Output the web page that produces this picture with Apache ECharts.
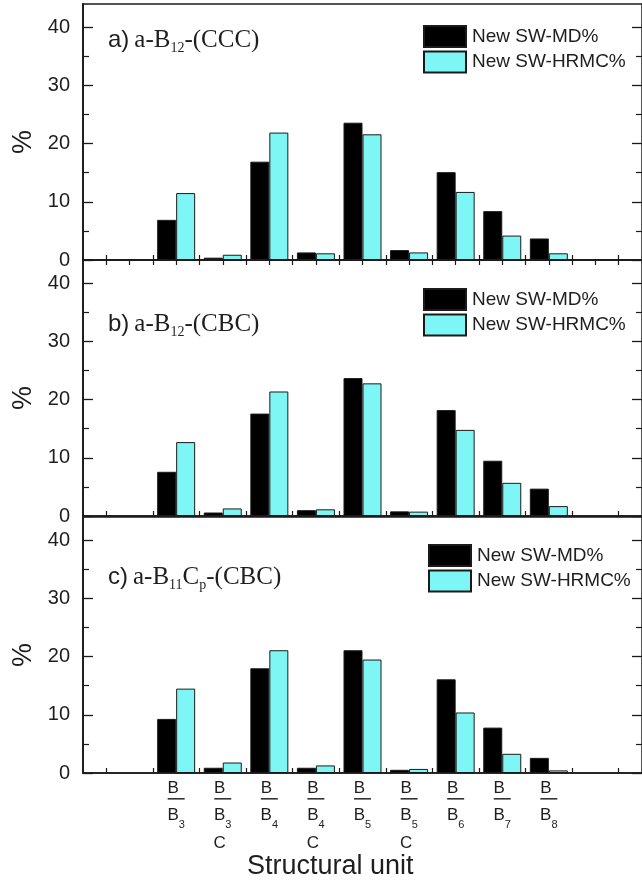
<!DOCTYPE html>
<html>
<head>
<meta charset="utf-8">
<script src="https://cdn.jsdelivr.net/npm/echarts@6/dist/echarts.min.js"></script>
<style>
html, body { margin: 0; padding: 0; background: #ffffff; }
#chart { width: 642px; height: 884px; }
</style>
</head>
<body>
<div id="chart"></div>
<script>
// Structural units (B over B_n, optionally with a C below)
const units = ['B3', 'B3C', 'B4', 'B4C', 'B5', 'B5C', 'B6', 'B7', 'B8'];
const unitSub = ['3', '3', '4', '4', '5', '5', '6', '7', '8'];
const unitHasC = [false, true, false, true, false, true, false, false, false];

const seriesNames = ['New SW-MD%', 'New SW-HRMC%'];

// Panel a) a-B12-(CCC)
const mdA   = [6.9, 0.4, 16.9, 1.3, 23.6, 1.7, 15.1, 8.4, 3.7];
const hrmcA = [11.5, 0.9, 21.9, 1.15, 21.6, 1.3, 11.7, 4.2, 1.15];
// Panel b) a-B12-(CBC)
const mdB   = [7.6, 0.6, 17.6, 1.0, 23.7, 0.8, 18.2, 9.5, 4.7];
const hrmcB = [12.7, 1.3, 21.4, 1.15, 22.8, 0.75, 14.8, 5.7, 1.7];
// Panel c) a-B11Cp-(CBC)
const mdC   = [9.3, 0.9, 18.0, 0.9, 21.1, 0.55, 16.1, 7.8, 2.6];
const hrmcC = [14.5, 1.8, 21.1, 1.3, 19.5, 0.7, 10.4, 3.3, 0.45];

const yMajorTicks = [0, 10, 20, 30, 40];
const yMinorTicks = [5, 15, 25, 35];
const yMax = 44;

// ---- layout ----
const FIRST = 2;                  // axis position of the first unit
const X_MAX = units.length + 3;   // empty slot on both sides
const SANS = 'Liberation Sans, Arial, sans-serif';
const SERIF = 'Liberation Serif, Times New Roman, serif';
const INK = '#1a1a1a';
const TXT = '#1e1e1e';

const panels = [
  { md: mdA, hrmc: hrmcA, top: 4,   title: '{p|a)} {f|a-B}{s|12}{f|-(CCC)}', titleTop: 25,  legendLeft: 423, legendTop: 25 },
  { md: mdB, hrmc: hrmcB, top: 260, title: '{p|b)} {f|a-B}{s|12}{f|-(CBC)}', titleTop: 309, legendLeft: 423, legendTop: 288 },
  { md: mdC, hrmc: hrmcC, top: 517, title: '{p|c)} {f|a-B}{s|11}{f|C}{s|p}{f|-(CBC)}', titleTop: 562, legendLeft: 428, legendTop: 544 }
];
const PANEL_H = 256;

const bandTicks = Array.from({ length: X_MAX }, (_, k) => k + 0.5);
const halfTicks = Array.from({ length: 2 * X_MAX - 1 }, (_, k) => (k + 1) * 0.5);
const unitPositions = units.map((_, i) => i + FIRST);

function unitLabel(val) {
  const i = Math.round(val) - FIRST;
  if (i < 0 || i >= units.length) return '';
  let s = '{b1|B}\n{u| }\n{b2|B}{s|' + unitSub[i] + '}';
  if (unitHasC[i]) s += '\n{c|C}';
  return s;
}

const grid = [], xAxis = [], yAxis = [], series = [], legend = [], title = [];

panels.forEach((p, k) => {
  const last = k === panels.length - 1;
  grid.push({
    left: 83, width: 564, top: p.top, height: PANEL_H,
    show: true, borderColor: INK, borderWidth: 1.5, backgroundColor: 'transparent'
  });

  // bottom axis
  xAxis.push({
    type: 'value', gridIndex: k, min: 0, max: X_MAX, position: 'bottom',
    splitLine: { show: false },
    axisLine: { show: true, onZero: false, lineStyle: { color: INK, width: 1.5 } },
    axisTick: { show: true, inside: true, length: 5, customValues: bandTicks, lineStyle: { color: INK, width: 1.2 } },
    axisLabel: last ? {
      show: true, customValues: unitPositions, formatter: unitLabel, margin: 6,
      color: TXT, fontFamily: SANS, verticalAlign: 'top',
      rich: {
        b1: { fontSize: 17, lineHeight: 19, fontFamily: SANS, color: TXT, padding: [0, 6, 0, 0] },
        u:  { width: 11, height: 1.6, lineHeight: 1.6, fontSize: 1, backgroundColor: '#333', padding: [0, 6, 0, 0] },
        b2: { fontSize: 17, lineHeight: 31, fontFamily: SANS, color: TXT },
        s:  { fontSize: 11, lineHeight: 13, fontFamily: SANS, color: TXT, verticalAlign: 'bottom' },
        c:  { fontSize: 17, lineHeight: 26, fontFamily: SANS, color: TXT, padding: [0, 6, 0, 0] }
      }
    } : { show: false }
  });

  // left axis: major ticks with labels
  yAxis.push({
    type: 'value', gridIndex: k, min: 0, max: yMax, position: 'left',
    name: '%', nameLocation: 'middle', nameGap: 46, nameRotate: 90,
    nameTextStyle: { fontSize: 27, fontFamily: SANS, color: TXT, padding: [0, 20, 0, 0] },
    splitLine: { show: false },
    axisLine: { show: true, lineStyle: { color: INK, width: 1.8 } },
    axisTick: { show: true, inside: true, length: 10, customValues: yMajorTicks, lineStyle: { color: INK, width: 1.3 } },
    axisLabel: { show: true, customValues: yMajorTicks, margin: 13, fontSize: 20, fontFamily: SANS, color: TXT }
  });
  // left axis: minor ticks
  yAxis.push({
    type: 'value', gridIndex: k, min: 0, max: yMax, position: 'left',
    splitLine: { show: false }, axisLine: { show: false }, axisLabel: { show: false },
    axisTick: { show: true, inside: true, length: 6, customValues: yMinorTicks, lineStyle: { color: INK, width: 1.2 } }
  });
  // right axis: mirrored ticks
  yAxis.push({
    type: 'value', gridIndex: k, min: 0, max: yMax, position: 'right',
    splitLine: { show: false }, axisLine: { show: false }, axisLabel: { show: false },
    axisTick: { show: true, inside: true, length: 10, customValues: yMajorTicks, lineStyle: { color: INK, width: 1.3 } }
  });
  yAxis.push({
    type: 'value', gridIndex: k, min: 0, max: yMax, position: 'right',
    splitLine: { show: false }, axisLine: { show: false }, axisLabel: { show: false },
    axisTick: { show: true, inside: true, length: 6, customValues: yMinorTicks, lineStyle: { color: INK, width: 1.2 } }
  });

  const yIdx = k * 4;
  series.push({
    name: seriesNames[0], type: 'bar', xAxisIndex: k, yAxisIndex: yIdx,
    barWidth: 19, barGap: '0%',
    itemStyle: { color: '#000000', borderColor: INK, borderWidth: 1 },
    data: p.md.map((v, i) => [i + FIRST, v])
  });
  series.push({
    name: seriesNames[1], type: 'bar', xAxisIndex: k, yAxisIndex: yIdx,
    barWidth: 19, barGap: '0%',
    itemStyle: { color: '#7ff6f6', borderColor: INK, borderWidth: 1 },
    data: p.hrmc.map((v, i) => [i + FIRST, v])
  });

  legend.push({
    data: seriesNames, orient: 'vertical', left: p.legendLeft, top: p.legendTop,
    padding: 0, itemWidth: 42, itemHeight: 21, itemGap: 2.5, icon: 'rect',
    selectedMode: false,
    textStyle: { fontSize: 19, fontFamily: SANS, color: TXT, padding: [0, 0, 0, 1] }
  });

  title.push({
    text: p.title, left: 108, top: p.titleTop, padding: 0,
    textStyle: {
      fontWeight: 'normal',
      rich: {
        p: { fontSize: 24, fontFamily: SANS, fontWeight: 'normal', color: TXT, lineHeight: 30 },
        f: { fontSize: 25, fontFamily: SERIF, fontWeight: 'normal', color: TXT, lineHeight: 30 },
        s: { fontSize: 14, fontFamily: SERIF, fontWeight: 'normal', color: TXT, lineHeight: 13, verticalAlign: 'bottom' }
      }
    }
  });
});

// top axis of the first panel: ticks every half unit
xAxis.push({
  type: 'value', gridIndex: 0, min: 0, max: X_MAX, position: 'top',
  splitLine: { show: false }, axisLabel: { show: false },
  axisLine: { show: false },
  axisTick: { show: true, inside: true, length: 5, customValues: halfTicks, lineStyle: { color: INK, width: 1.2 } }
});

title.push({
  text: 'Structural unit', left: 247, top: 853, padding: 0,
  textStyle: { fontSize: 27, fontWeight: 'normal', fontFamily: SANS, color: TXT }
});

const chart = echarts.init(document.getElementById('chart'), null, { renderer: 'canvas' });
chart.setOption({
  backgroundColor: '#ffffff',
  animation: false,
  title, legend, grid, xAxis, yAxis, series
});
</script>
</body>
</html>
